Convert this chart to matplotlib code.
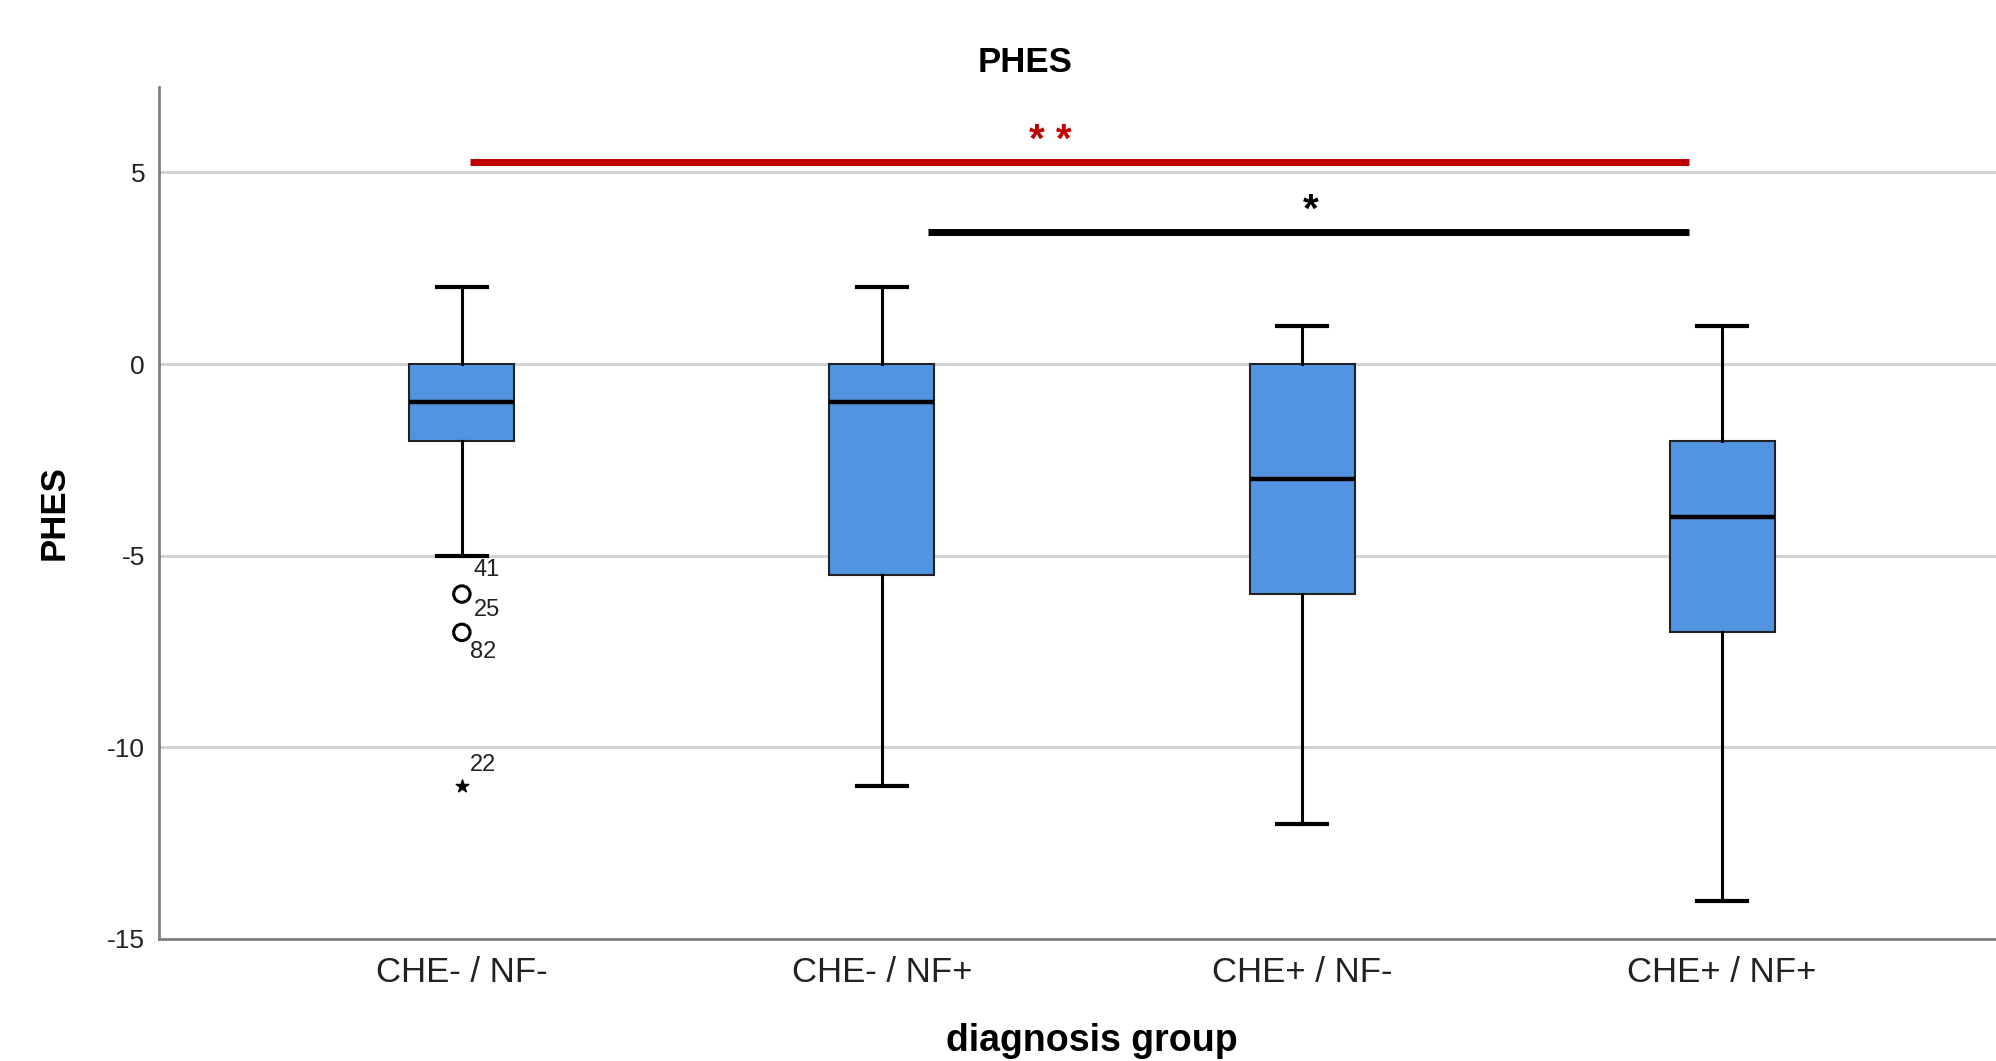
import numpy as np
import matplotlib.pyplot as plt

# --- data ---
groups = ['CHE- / NF-', 'CHE- / NF+', 'CHE+ / NF-', 'CHE+ / NF+']
whisker_high = [2, 2, 1, 1]
q3 = [0, 0, 0, -2]
medians = [-1, -1, -3, -4]
q1 = [-2, -5.5, -6, -7]
whisker_low = [-5, -11, -12, -14]

# outliers (group index, value, case label)
outlier_group = [0, 0]
outlier_vals = [-6, -7]
extreme_group = [0]
extreme_vals = [-11]
case_labels = ['41', '25', '82', '22']
case_label_y = [-5.38, -6.42, -7.52, -10.45]

# significance bars
sig_start = [0.02, 1.11]
sig_end = [2.92, 2.92]
sig_level = [5.27, 3.44]
sig_text = ['**', '*']
sig_text_x = [1.40, 2.02]
sig_colors = ['#C00000', 'black']

box_color = '#5294E2'

plt.rcParams['font.family'] = ['Liberation Sans', 'DejaVu Sans']
plt.rcParams['axes.unicode_minus'] = False

fig = plt.figure(figsize=(19.96, 10.61), dpi=100)
ax = fig.add_axes([159 / 1996, 1 - 939 / 1061, 1 - 159 / 1996, (939 - 87) / 1061])

stats = []
for i in range(len(groups)):
    stats.append({'med': medians[i], 'q1': q1[i], 'q3': q3[i],
                  'whislo': whisker_low[i], 'whishi': whisker_high[i],
                  'fliers': [], 'label': groups[i]})

ax.bxp(stats, positions=range(len(groups)), widths=0.25, patch_artist=True,
       showfliers=False,
       boxprops=dict(facecolor=box_color, edgecolor='#222222', linewidth=1.5),
       medianprops=dict(color='black', linewidth=3.2),
       whiskerprops=dict(color='black', linewidth=2.2),
       capprops=dict(color='black', linewidth=3.0),
       capwidths=0.12, zorder=3)

ax.scatter(outlier_group, outlier_vals, s=140, facecolors='none', edgecolors='black',
           linewidths=2.2, zorder=4)
ax.scatter(extreme_group, extreme_vals, marker='*', s=90, color='black', zorder=4)

label_x = [0.028, 0.028, 0.02, 0.02]
for lx, ly, txt in zip(label_x, case_label_y, case_labels):
    ax.text(lx, ly, txt, fontsize=17, ha='left', va='center', color='#222222')

for x0, x1, y, c in zip(sig_start, sig_end, sig_level, sig_colors):
    ax.plot([x0, x1], [y, y], color=c, linewidth=5, solid_capstyle='butt', zorder=5)
for tx, y, t, c in zip(sig_text_x, sig_level, sig_text, sig_colors):
    ax.text(tx, y + 0.55, ' '.join(t), fontsize=29, ha='center', va='center', color=c,
            fontweight='bold')

ax.set_xlim(-0.721, 3.652)
ax.set_ylim(-15, 7.23)
ax.set_yticks([5, 0, -5, -10, -15])
ax.set_xticks(range(len(groups)))
ax.set_xticklabels(groups, fontsize=25, color='#222222')
ax.tick_params(axis='y', labelsize=19, colors='#222222', length=0, pad=10)
ax.tick_params(axis='x', length=0, pad=12)
ax.yaxis.grid(True, color='#d0d0d0', linewidth=2)
ax.set_axisbelow(True)

for s in ['top', 'right']:
    ax.spines[s].set_visible(False)
for s in ['left', 'bottom']:
    ax.spines[s].set_color('#808080')
    ax.spines[s].set_linewidth(2)

ax.set_ylabel('PHES', fontsize=25, fontweight='bold', labelpad=26)
fig.text(1092 / 1996, 1 - 1041 / 1061, 'diagnosis group', fontsize=27, fontweight='bold',
         ha='center', va='center')
fig.text(1025 / 1996, 1 - 62 / 1061, 'PHES', fontsize=25, fontweight='bold',
         ha='center', va='center')

fig.savefig('out.png', dpi=100)
